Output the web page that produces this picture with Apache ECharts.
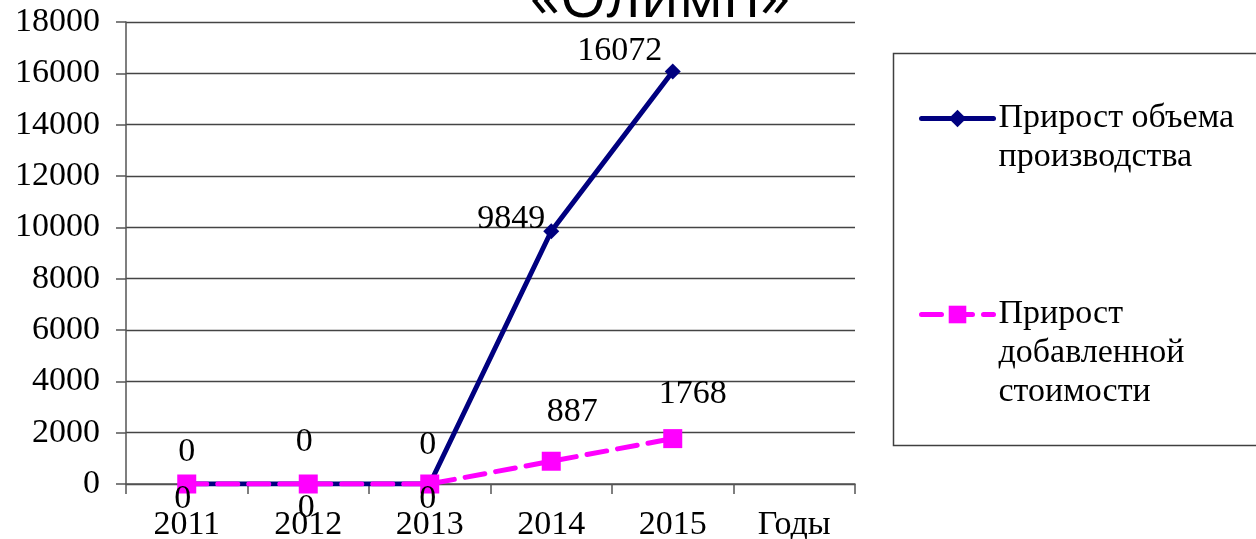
<!DOCTYPE html>
<html><head><meta charset="utf-8">
<script src="https://cdn.jsdelivr.net/npm/echarts@6/dist/echarts.min.js"></script>
<style>html,body{margin:0;padding:0;background:#fff}#c{width:1256px;height:539px}</style>
</head><body><div id="c"></div>
<script>
const categories = ['2011','2012','2013','2014','2015','Годы'];
const prodValues = [0, 0, 0, 9849, 16072];
const addedValues = [0, 0, 0, 887, 1768];
const yTicks = [0,2000,4000,6000,8000,10000,12000,14000,16000,18000];
const seriesNames = ['Прирост объема\nпроизводства', 'Прирост\nдобавленной\nстоимости'];
const titleText = '«Олимп»';

const serif = 'Liberation Serif';
const FS = 34;
const prodOffsets = [[0,-2],[-4,-12],[-2,-9],[-40,18],[-53,10]];
const addedOffsets = [[-4,-16],[-2,-7],[-2,-16],[21,-18],[20,-13]];

const chart = echarts.init(document.getElementById('c'));
chart.setOption({
  animation: false,
  title: {
    text: titleText, left: 655, top: -35, textAlign: 'center',
    textStyle: {fontFamily: 'Open Sans', fontSize: 60, fontWeight: 'normal', color: '#000'}
  },
  grid: {left: 126, right: 401, top: 22, bottom: 55, containLabel: false, outerBoundsMode: 'none'},
  legend: [
    {data: [seriesNames[0]], orient: 'vertical', left: 914, top: 55, itemWidth: 72, itemHeight: 22,
     itemGap: 0, lineStyle: {width: 5}, textStyle: {fontFamily: serif, fontSize: FS, color: '#000', lineHeight: 39},
     formatter: n => '\n' + n},
    {data: [seriesNames[1]], orient: 'vertical', left: 914, top: 212, itemWidth: 72, itemHeight: 22,
     itemGap: 0, lineStyle: {width: 5}, textStyle: {fontFamily: serif, fontSize: FS, color: '#000', lineHeight: 39},
     formatter: n => '\n\n' + n}
  ],
  graphic: [{type: 'rect', shape: {x: 893.5, y: 53.5, width: 400, height: 392},
             style: {fill: 'none', stroke: '#404040', lineWidth: 1.5}, z: -1}],
  xAxis: {
    type: 'category', data: categories, boundaryGap: true,
    axisLine: {lineStyle: {color: '#555', width: 1.5}},
    axisTick: {show: true, length: 10, lineStyle: {color: '#555', width: 1.5}},
    axisLabel: {fontFamily: serif, fontSize: FS, color: '#000', margin: 24}
  },
  yAxis: {
    type: 'value', min: 0, max: 18000, interval: 2000,
    axisLine: {show: true, lineStyle: {color: '#555', width: 1.5}},
    axisTick: {show: true, length: 10, lineStyle: {color: '#555', width: 1.5}},
    splitLine: {lineStyle: {color: '#444', width: 1.3}},
    axisLabel: {fontFamily: serif, fontSize: FS, color: '#000', margin: 26,
                formatter: v => yTicks.includes(v) ? String(v) : ''}
  },
  series: [
    {
      name: seriesNames[0], type: 'line',
      data: prodValues.map((v,i)=>({value: v, label: {offset: prodOffsets[i]}})),
      symbol: 'diamond', symbolSize: 16,
      lineStyle: {color: '#00007f', width: 5, cap: 'round'},
      itemStyle: {color: '#00007f'},
      label: {show: true, position: 'top', distance: 5, fontFamily: serif, fontSize: FS, color: '#000'},
      z: 2
    },
    {
      name: seriesNames[1], type: 'line',
      data: addedValues.map((v,i)=>({value: v, label: i >= 3 ? {position: 'top', offset: addedOffsets[i]} : {offset: addedOffsets[i]}})),
      symbol: 'rect', symbolSize: 19,
      lineStyle: {color: '#ff00ff', width: 5, type: [20, 11], cap: 'round'},
      itemStyle: {color: '#ff00ff'},
      label: {show: true, position: 'bottom', distance: 5, fontFamily: serif, fontSize: FS, color: '#000'},
      z: 3
    }
  ]
});
</script></body></html>
